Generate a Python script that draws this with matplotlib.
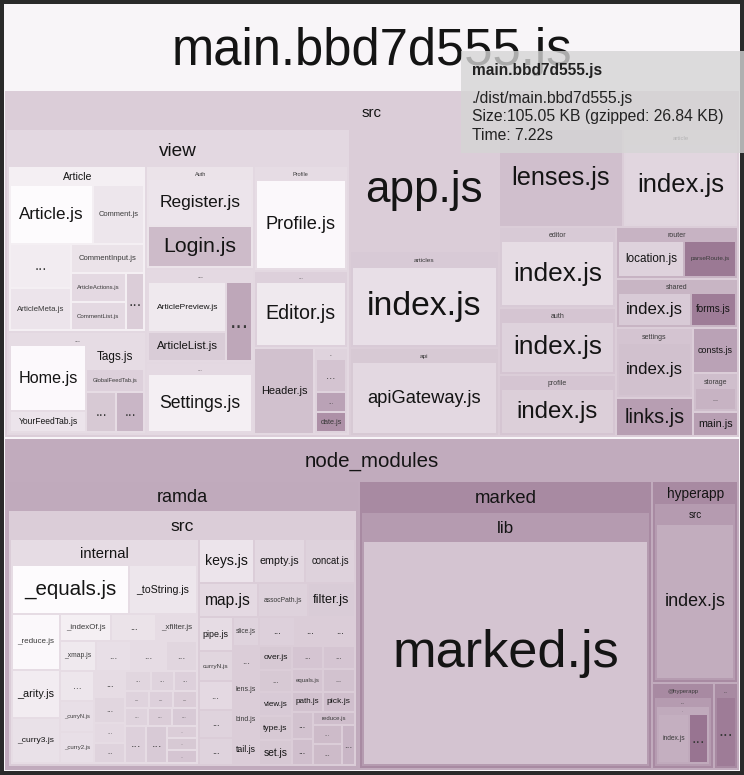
import matplotlib
matplotlib.use("Agg")
import matplotlib.pyplot as plt
from matplotlib.patches import Rectangle

# ------------------------------------------------------------------ data
BUNDLE_NAME = "main.bbd7d555.js"
TOOLTIP_TITLE = "main.bbd7d555.js"
TOOLTIP_LINES = ["./dist/main.bbd7d555.js",
                 "Size:105.05 KB (gzipped: 26.84 KB)",
                 "Time: 7.22s"]

# relative module sizes
VIEW_ARTICLE_FILES = ["Article.js", "Comment.js", "...", "ArticleMeta.js",
                      "CommentInput.js", "ArticleActions.js", "CommentList.js", "..."]
VIEW_ARTICLE_SIZES = [48.5, 30, 26.2, 25.2, 20.4, 15.5, 14.6, 9.7]
VIEW_HOME_FILES = ["Home.js", "YourFeedTab.js", "Tags.js", "GlobalFeedTab.js", "...", "..."]
VIEW_HOME_SIZES = [49.5, 15.5, 12.6, 12.6, 11.6, 10.7]
VIEW_AUTH_FILES = ["Register.js", "Login.js"]
VIEW_AUTH_SIZES = [48.5, 41.7]
VIEW_LIST_FILES = ["ArticlePreview.js", "ArticleList.js", "..."]
VIEW_LIST_SIZES = [38.8, 21.3, 19.4]
VIEW_SETTINGS_FILES = ["Settings.js"]
VIEW_SETTINGS_SIZES = [61]
VIEW_PROFILE_FILES = ["Profile.js"]
VIEW_PROFILE_SIZES = [80.5]
VIEW_EDITOR_FILES = ["Editor.js"]
VIEW_EDITOR_SIZES = [57.2]
VIEW_MISC_FILES = ["Header.js", "...", "...", "date.js"]
VIEW_MISC_SIZES = [52.4, 9.2, 5.2, 5.2]

SRC_TOP_FILES = ["app.js", "index.js", "apiGateway.js", "lenses.js", "index.js"]
SRC_TOP_SIZES = [187, 115.5, 107, 125, 91]
SRC_PAGES_FILES = ["index.js", "index.js", "index.js"]
SRC_PAGES_SIZES = [74, 57.7, 51.5]
SRC_UTIL_FILES = ["location.js", "parseRoute.js", "index.js", "forms.js", "index.js",
                  "links.js", "consts.js", "...", "main.js"]
SRC_UTIL_SIZES = [22.7, 17.5, 23.7, 14.4, 38.1, 28.8, 19.6, 8.2, 10.3]

RAMDA_INTERNAL_FILES = ["_equals.js", "_toString.js", "_reduce.js", "_arity.js", "_curry3.js",
                        "_indexOf.js", "...", "_xfilter.js",
                        "_xmap.js", "...", "...", "...",
                        "...", "_curryN.js", "_curry2.js",
                        "...", "...", "...", "...",
                        "...", "...", "...", "...", "...", "...", "...", "...", "...",
                        "...", "...", "...", "...", "..."]
RAMDA_INTERNAL_SIZES = [56.4, 32, 26.3, 22.6, 20.7,
                        13.2, 11.3, 10.3,
                        9.9, 9.9, 9.4, 8.5,
                        9.9, 9.9, 9.9,
                        7.5, 7.1, 5.4, 5.6,
                        4.5, 4.1, 3.9, 3.5, 3.7, 3.5, 3.4, 3.7, 3.7,
                        7.1, 7.1, 2.8, 3.1, 3.1]
RAMDA_SRC_FILES = ["keys.js", "empty.js", "concat.js", "map.js", "assocPath.js", "filter.js",
                   "pipe.js", "curryN.js", "...", "...", "...",
                   "slice.js", "...", "lens.js", "bind.js", "tail.js",
                   "...", "...", "...",
                   "over.js", "...", "view.js", "type.js", "set.js",
                   "...", "...", "equals.js", "...", "path.js", "pick.js",
                   "...", "...", "reduce.js", "...", "...", "..."]
RAMDA_SRC_SIZES = [23.5, 21.6, 20.7, 19.7, 16.5, 15.5,
                   10.8, 9.4, 9.2, 8.6, 8.6,
                   7.1, 7.1, 7.1, 7.3, 7.6,
                   9.2, 7.9, 7.6,
                   7, 6.6, 7, 7, 7.2,
                   6.7, 6.7, 6.4, 6.4, 5.8, 5.8,
                   4.9, 4.9, 4.6, 4.9, 5.5, 4.3]
MARKED_FILES = ["marked.js"]
MARKED_SIZES = [665]
HYPERAPP_FILES = ["index.js", "index.js", "...", "..."]
HYPERAPP_SIZES = [122, 14.1, 8.5, 13.2]

# ------------------------------------------------------------------ style
VIEW_ARTICLE_SHADE = [0.0, 0.14, 0.10, 0.15, 0.16, 0.22, 0.22, 0.30]
VIEW_HOME_SHADE = [0.01, 0.15, 0.20, 0.28, 0.33, 0.45]
VIEW_AUTH_SHADE = [0.15, 0.42]
VIEW_LIST_SHADE = [0.12, 0.31, 0.55]
VIEW_SETTINGS_SHADE = [0.08]
VIEW_PROFILE_SHADE = [0.02]
VIEW_EDITOR_SHADE = [0.12]
VIEW_MISC_SHADE = [0.38, 0.36, 0.58, 0.70]
SRC_TOP_SHADE = [0.30, 0.18, 0.23, 0.39, 0.24]
SRC_PAGES_SHADE = [0.20, 0.27, 0.29]
SRC_UTIL_SHADE = [0.27, 0.85, 0.32, 0.83, 0.38, 0.61, 0.58, 0.47, 0.60]
RAMDA_INTERNAL_SHADE = [0.0, 0.14, 0.02, 0.10, 0.17,
                        0.08, 0.16, 0.20,
                        0.12, 0.18, 0.20, 0.24,
                        0.14, 0.18, 0.18,
                        0.20, 0.24, 0.22, 0.26,
                        0.24, 0.26, 0.28, 0.26, 0.28, 0.30, 0.26, 0.30, 0.32,
                        0.28, 0.32, 0.30, 0.33, 0.35]
RAMDA_SRC_SHADE = [0.15, 0.23, 0.27, 0.22, 0.27, 0.31,
                   0.20, 0.24, 0.22, 0.26, 0.26,
                   0.26, 0.30, 0.30, 0.30, 0.30,
                   0.28, 0.30, 0.30,
                   0.33, 0.33, 0.32, 0.33, 0.33,
                   0.35, 0.35, 0.35, 0.37, 0.37, 0.39,
                   0.37, 0.39, 0.40, 0.42, 0.42, 0.45]
MARKED_SHADE = [0.36]
HYPERAPP_SHADE = [0.51, 0.50, 0.88, 0.83]

FONT = ["Liberation Sans", "DejaVu Sans"]
C0 = (253, 251, 253)
C1 = (138, 98, 130)


def shade(s):
    return tuple((a + s * (b - a)) / 255.0 for a, b in zip(C0, C1))


class Node:
    def __init__(self, kind, label=None, children=None, value=0.0, d="h",
                 hdr=0, fs=0, s=0.0):
        self.kind = kind
        self.label = label
        self.children = children or []
        self.value = value
        self.d = d
        self.hdr = hdr
        self.fs = fs
        self.s = s
        self.k = 1.0
        self.margin = 1.0
        self.pad = 1.0
        self.dy = 1.0


def F(label, value, s):
    return Node("leaf", label, value=value, s=s)


def G(label, d, hdr, fs, s, children):
    return Node("group", label, children, d=d, hdr=hdr, fs=fs, s=s)


def B(d, children):
    return Node("block", None, children, d=d)


def leaves(names, sizes, shades):
    return [F(n, v, s) for n, v, s in zip(names, sizes, shades)]


# ------------------------------------------------------------------ hierarchy
a = leaves(VIEW_ARTICLE_FILES, VIEW_ARTICLE_SIZES, VIEW_ARTICLE_SHADE)
article_grp = G("Article", "v", 18, 10.5, 0.08, [
    B("h", [a[0], a[1]]),
    B("h", [B("v", [a[2], a[3]]),
            B("v", [a[4], B("h", [B("v", [a[5], a[6]]), a[7]])])])])
h = leaves(VIEW_HOME_FILES, VIEW_HOME_SIZES, VIEW_HOME_SHADE)
home_grp = G("...", "h", 12, 7, 0.20, [
    B("v", [h[0], h[1]]), B("v", [h[2], h[3], B("h", [h[4], h[5]])])])
auth_grp = G("Auth", "v", 12, 5.5, 0.16,
             leaves(VIEW_AUTH_FILES, VIEW_AUTH_SIZES, VIEW_AUTH_SHADE))
li = leaves(VIEW_LIST_FILES, VIEW_LIST_SIZES, VIEW_LIST_SHADE)
list_grp = G("...", "h", 12, 7, 0.22, [B("v", [li[0], li[1]]), li[2]])
set_grp = G("...", "v", 10, 6, 0.22,
            leaves(VIEW_SETTINGS_FILES, VIEW_SETTINGS_SIZES, VIEW_SETTINGS_SHADE))
prof_grp = G("Profile", "v", 13, 5.5, 0.20,
             leaves(VIEW_PROFILE_FILES, VIEW_PROFILE_SIZES, VIEW_PROFILE_SHADE))
ed_grp = G("...", "v", 10, 6, 0.28,
           leaves(VIEW_EDITOR_FILES, VIEW_EDITOR_SIZES, VIEW_EDITOR_SHADE))
mi = leaves(VIEW_MISC_FILES, VIEW_MISC_SIZES, VIEW_MISC_SHADE)
misc = B("h", [mi[0], G("..", "v", 10, 5, 0.26, mi[1:])])
view = G("view", "h", 36, 19, 0.23, [
    B("v", [article_grp, home_grp]),
    B("v", [auth_grp, list_grp, set_grp]),
    B("v", [prof_grp, ed_grp, misc])])
view.dy = 3.0

t = leaves(SRC_TOP_FILES, SRC_TOP_SIZES, SRC_TOP_SHADE)
mid = B("v", [t[0], G("articles", "v", 15, 6.5, 0.32, [t[1]]),
              G("api", "v", 13, 6.5, 0.33, [t[2]])])
pg = leaves(SRC_PAGES_FILES, SRC_PAGES_SIZES, SRC_PAGES_SHADE)
ut = leaves(SRC_UTIL_FILES, SRC_UTIL_SIZES, SRC_UTIL_SHADE)
right = B("v", [
    B("h", [t[3], G("article", "v", 14, 6, 0.25, [t[4]])]),
    B("h", [
        B("v", [G("editor", "v", 13, 7, 0.32, [pg[0]]),
                G("auth", "v", 13, 7, 0.35, [pg[1]]),
                G("profile", "v", 13, 7, 0.35, [pg[2]])]),
        B("v", [G("router", "h", 13, 7, 0.47, [ut[0], ut[1]]),
                G("shared", "h", 13, 7, 0.46, [ut[2], ut[3]]),
                B("h", [B("v", [G("settings", "v", 14, 7, 0.36, [ut[4]]), ut[5]]),
                        B("v", [ut[6], G("storage", "v", 14, 7, 0.40, [ut[7]]), ut[8]])])])])])
src = G("src", "h", 38, 15, 0.30, [view, mid, right])
src.dy = 3.0

ri = leaves(RAMDA_INTERNAL_FILES, RAMDA_INTERNAL_SIZES, RAMDA_INTERNAL_SHADE)
internal = G("internal", "v", 25, 14.7, 0.20, [
    B("h", [ri[0], ri[1]]),
    B("h", [B("v", ri[2:5]),
            B("v", [B("h", ri[5:8]), B("h", ri[8:12]),
                    B("h", [B("v", ri[12:15]), B("v", ri[15:19]),
                            B("v", [B("h", ri[19:22]), B("h", ri[22:25]), B("h", ri[25:28]),
                                    B("h", [ri[28], ri[29], B("v", ri[30:33])])])])])])])
rs = leaves(RAMDA_SRC_FILES, RAMDA_SRC_SIZES, RAMDA_SRC_SHADE)
rright = B("v", [
    B("h", rs[0:3]), B("h", rs[3:6]),
    B("h", [B("v", rs[6:11]), B("v", rs[11:16]),
            B("v", [B("h", rs[16:19]),
                    B("h", [B("v", rs[19:24]),
                            B("v", [B("h", rs[24:26]), B("h", rs[26:28]), B("h", rs[28:30]),
                                    B("h", [B("v", rs[30:32]),
                                            B("v", [rs[32], B("h", [B("v", rs[33:35]), rs[35]])])])])])])])])
ramda = G("ramda", "v", 28, 18, 0.53, [G("src", "h", 28, 17.5, 0.30, [internal, rright])])
mk = leaves(MARKED_FILES, MARKED_SIZES, MARKED_SHADE)
marked = G("marked", "v", 30, 18.6, 0.74, [G("lib", "v", 28, 17, 0.63, mk)])
hy = leaves(HYPERAPP_FILES, HYPERAPP_SIZES, HYPERAPP_SHADE)
hcol = B("v", [
    G("hyperapp", "v", 21, 13.6, 0.74, [G("src", "v", 20, 10, 0.63, [hy[0]])]),
    B("h", [G("@hyperapp", "v", 13, 6, 0.74,
              [G("...", "v", 8, 5, 0.63, [G("..", "h", 7, 4, 0.53, [hy[1], hy[2]])])]),
            G("...", "v", 13, 5, 0.74, [hy[3]])])])
nm = G("node_modules", "h", 42, 20.5, 0.52, [ramda, marked, hcol])
root = G(BUNDLE_NAME, "v", 86, 50.7, 0.04, [src, nm])
root.pad = 0.0
root.dy = 4.0


# ------------------------------------------------------------------ layout
def weight(n):
    if n.kind == "leaf":
        return n.value * n.k
    return sum(weight(c) for c in n.children) * n.k


def layout(n, x0, y0, x1, y1):
    n.alloc = (x0, y0, x1, y1)
    if n.kind == "block":
        cx0, cy0, cx1, cy1 = x0, y0, x1, y1
    else:
        m = n.margin
        n.box = (x0 + m, y0 + m, x1 - m, y1 - m)
        if n.kind == "leaf":
            return
        bx0, by0, bx1, by1 = n.box
        p = n.pad
        cx0, cy0, cx1, cy1 = bx0 + p, by0 + n.hdr, bx1 - p, by1 - p
    n.content = (cx0, cy0, cx1, cy1)
    ws = [weight(c) for c in n.children]
    tot = sum(ws)
    pos = cx0 if n.d == "h" else cy0
    for c, w in zip(n.children, ws):
        if n.d == "h":
            span = (cx1 - cx0) * w / tot
            layout(c, pos, cy0, pos + span, cy1)
        else:
            span = (cy1 - cy0) * w / tot
            layout(c, cx0, pos, cx1, pos + span)
        pos += span


def area(r):
    return max(r[2] - r[0], 0.5) * max(r[3] - r[1], 0.5)


def update_k(n):
    if n.kind == "leaf":
        n.k = area(n.alloc) / area(n.box)
        return
    if n.kind == "group":
        n.k = area(n.alloc) / area(n.content)
    for c in n.children:
        update_k(c)


ROOT_RECT = (3, 3, 741, 772)
for _ in range(40):
    layout(root, *ROOT_RECT)
    update_k(root)
layout(root, *ROOT_RECT)

# ------------------------------------------------------------------ drawing
fig = plt.figure(figsize=(7.44, 7.75), dpi=100)
fig.patch.set_facecolor("#2a2a2a")
ax = fig.add_axes([0, 0, 1, 1])
ax.set_xlim(0, 744)
ax.set_ylim(775, 0)
ax.axis("off")
renderer = fig.canvas.get_renderer()
_wcache = {}


def width100(label, weight_="normal"):
    key = (label, weight_)
    if key not in _wcache:
        tt = ax.text(0, 0, label, fontsize=72, family=FONT, fontweight=weight_)
        _wcache[key] = tt.get_window_extent(renderer=renderer).width
        tt.remove()
    return _wcache[key]


def put(label, cx, cy, px, color="#141414"):
    if px < 2.5:
        return
    ax.text(cx, cy, label, fontsize=px * 0.72, family=FONT, color=color,
            ha="center", va="center", zorder=5)


def draw(n):
    if n.kind != "block":
        x0, y0, x1, y1 = n.box
        ax.add_patch(Rectangle((x0, y0), x1 - x0, y1 - y0, facecolor=shade(n.s),
                               edgecolor="none", lw=0, zorder=1))
        bw, bh = x1 - x0, y1 - y0
        if n.kind == "leaf":
            dots = n.label.startswith("...")
            hf = 0.36 if dots else 0.55
            px = min(0.80 * bw / (width100(n.label) / 100.0), hf * bh, 56)
            put(n.label, (x0 + x1) / 2, (y0 + y1) / 2, px,
                "#3a3a3a" if (dots or px < 8) else "#141414")
        else:
            px = min(n.fs, 0.9 * bw / (width100(n.label) / 100.0))
            put(n.label, (x0 + x1) / 2, y0 + n.hdr / 2 + n.dy, px,
                "#3a3a3a" if px < 8 else "#141414")
    for c in n.children:
        draw(c)


draw(root)

# tooltip
ax.add_patch(Rectangle((461, 51), 290, 102, facecolor=(0.835, 0.835, 0.835),
                       alpha=0.79, edgecolor="none", zorder=10))
ax.text(472, 70, TOOLTIP_TITLE, fontsize=11.2, family=FONT, fontweight="bold",
        color="#222222", ha="left", va="center", zorder=11)
for yy, line in zip([98, 117, 135], TOOLTIP_LINES):
    ax.text(472, yy, line, fontsize=11.3, family=FONT, color="#222222",
            ha="left", va="center", zorder=11)

fig.savefig("out.png", dpi=100, facecolor=fig.get_facecolor())
